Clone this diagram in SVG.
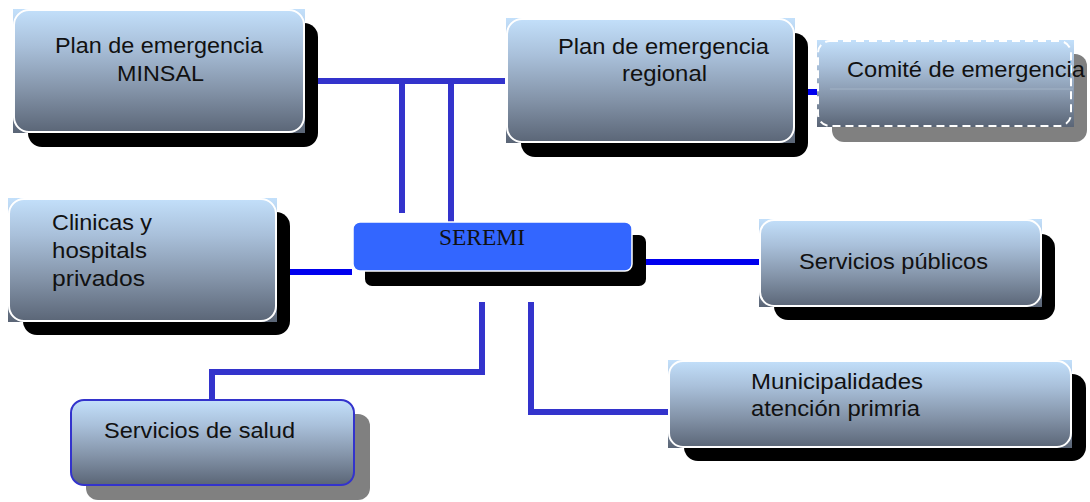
<svg xmlns="http://www.w3.org/2000/svg" width="1090" height="502" viewBox="0 0 1090 502">
<defs>
<linearGradient id="g" x1="0" y1="0" x2="0" y2="1">
<stop offset="0" stop-color="#c3e0fb"/>
<stop offset="0.3" stop-color="#a9c0da"/>
<stop offset="0.65" stop-color="#8494a9"/>
<stop offset="1" stop-color="#5a6576"/>
</linearGradient>
<style>
.sh{fill:#000}
.shg{fill:#808080}
.bg{fill:url(#g)}
.bd{fill:none;stroke:#fff;stroke-width:2}
.t{font-family:"Liberation Sans",Arial,sans-serif;font-size:22px;fill:#111}
.ts{font-family:"Liberation Serif","Times New Roman",serif;font-size:24px;fill:#111}
.c{fill:none;stroke:#3333cc;stroke-width:6}
.cb{fill:none;stroke:#0000ee;stroke-width:6}
</style>
</defs>
<rect width="1090" height="502" fill="#fff"/>
<g id="connectors">
<path class="c" d="M316 81H505M402 81V213M451 81V222"/>
<path class="cb" d="M282 272H352"/>
<path class="cb" d="M793 92H818"/>
<path class="cb" d="M632 262H761"/>
<path class="c" d="M482 302V372H212V401"/>
<path class="c" d="M531 302V412H670"/>
</g>
<g id="n-minsal">
<rect class="sh" x="28" y="23" width="290" height="124" rx="14"/>
<rect class="bg" x="13" y="9" width="292" height="124"/>
<rect class="bd" x="14" y="10" width="290" height="122" rx="15"/>
<text class="t" x="55" y="53" textLength="208" lengthAdjust="spacingAndGlyphs">Plan de emergencia</text>
<text class="t" x="117" y="81" textLength="87" lengthAdjust="spacingAndGlyphs">MINSAL</text>
</g>
<g id="n-regional">
<rect class="sh" x="521" y="33" width="287" height="124" rx="14"/>
<rect class="bg" x="506" y="18" width="289" height="125"/>
<rect class="bd" x="507" y="19" width="287" height="123" rx="15"/>
<text class="t" x="558" y="54" textLength="211" lengthAdjust="spacingAndGlyphs">Plan de emergencia</text>
<text class="t" x="622" y="81" textLength="85" lengthAdjust="spacingAndGlyphs">regional</text>
</g>
<g id="n-comite">
<rect class="shg" x="832" y="54" width="255" height="88" rx="12"/>
<rect class="bg" x="817" y="40" width="257" height="87"/>
<line x1="830" y1="89" x2="1073" y2="89" stroke="#a3b3c6" stroke-width="1"/>
<rect x="818" y="41" width="253" height="85" rx="12" fill="none" stroke="#fff" stroke-width="2" stroke-dasharray="8 5"/>
<text class="t" x="847" y="77" textLength="238" lengthAdjust="spacingAndGlyphs">Comité de emergencia</text>
</g>
<g id="n-clinicas">
<rect class="sh" x="23" y="212" width="267" height="123" rx="14"/>
<rect class="bg" x="8" y="198" width="269" height="124"/>
<rect class="bd" x="9" y="199" width="267" height="122" rx="15"/>
<text class="t" x="52" y="230" textLength="100" lengthAdjust="spacingAndGlyphs">Clinicas y</text>
<text class="t" x="52" y="258" textLength="95" lengthAdjust="spacingAndGlyphs">hospitals</text>
<text class="t" x="52" y="286" textLength="93" lengthAdjust="spacingAndGlyphs">privados</text>
</g>
<g id="n-seremi">
<rect class="sh" x="365" y="235" width="281" height="51" rx="7"/>
<rect x="353" y="222" width="279" height="49" rx="7" fill="#3366ff" stroke="#fff" stroke-width="1.5"/>
<text class="ts" x="439" y="245" textLength="86" lengthAdjust="spacingAndGlyphs">SEREMI</text>
</g>
<g id="n-publicos">
<rect class="sh" x="774" y="234" width="281" height="86" rx="14"/>
<rect class="bg" x="759" y="219" width="283" height="88"/>
<rect class="bd" x="760" y="220" width="281" height="86" rx="14"/>
<text class="t" x="799" y="269" textLength="189" lengthAdjust="spacingAndGlyphs">Servicios públicos</text>
</g>
<g id="n-salud">
<rect class="shg" x="86" y="414" width="284" height="86" rx="12"/>
<rect x="71" y="400" width="283" height="85" rx="13" fill="url(#g)" stroke="#3333cc" stroke-width="2"/>
<text class="t" x="104" y="438" textLength="191" lengthAdjust="spacingAndGlyphs">Servicios de salud</text>
</g>
<g id="n-municipal">
<rect class="sh" x="684" y="374" width="402" height="87" rx="14"/>
<rect class="bg" x="668" y="360" width="404" height="88"/>
<rect class="bd" x="669" y="361" width="402" height="86" rx="14"/>
<text class="t" x="751" y="389" textLength="172" lengthAdjust="spacingAndGlyphs">Municipalidades</text>
<text class="t" x="751" y="416" textLength="169" lengthAdjust="spacingAndGlyphs">atención primria</text>
</g>
</svg>
